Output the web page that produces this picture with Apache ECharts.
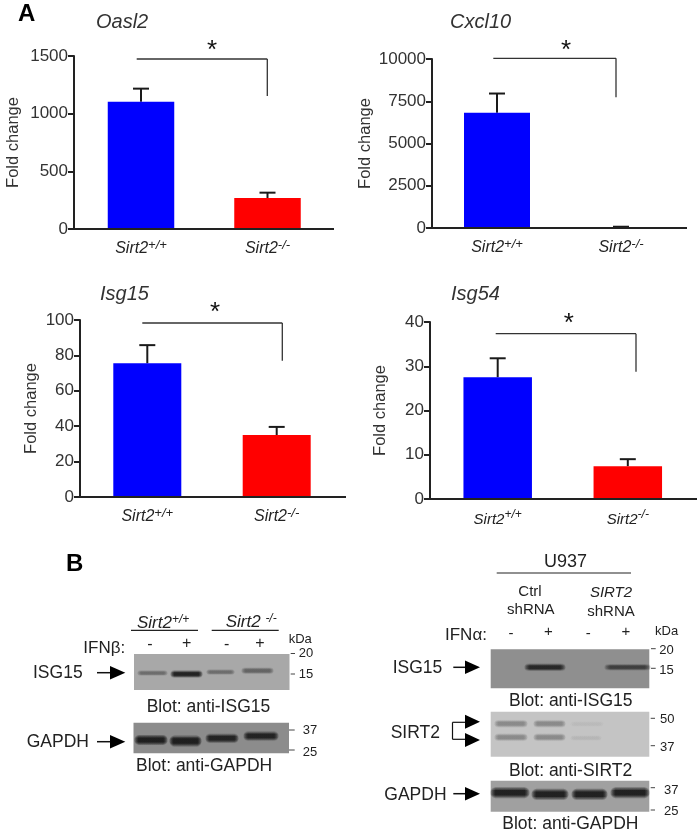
<!DOCTYPE html>
<html><head><meta charset="utf-8">
<style>html,body{margin:0;padding:0;background:#fff}#c{width:700px;height:832px}</style>
<script src="https://cdn.jsdelivr.net/npm/echarts@6/dist/echarts.min.js"></script>
</head><body><div id="c"></div>
<script>
const categories = ['Sirt2+/+', 'Sirt2-/-'];
const oasl2Means = [1104, 269];
const oasl2Tops = [1217, 315];
const cxcl10Means = [6820, 30];
const cxcl10Tops = [7957, 75];
const isg15Means = [75.5, 35];
const isg15Tops = [85.8, 39.6];
const isg54Means = [27.5, 7.4];
const isg54Tops = [31.8, 9];
const barColors = ['#0000ff', '#ff0000'];
const FONT = '"Liberation Sans", Arial, sans-serif';
const INK = '#222';

const panels = [
  {title:'Oasl2', means:oasl2Means, tops:oasl2Tops, max:1500, interval:500, c0:141, c1:267.5, bw:66.5, axisX:74, endX:334, top:56, y0:229, nameX:11.7, titleX:96, titleY:22.5,
   br:[136.7,267.3,59,96], star:[212,51], lab:16},
  {title:'Cxcl10', means:cxcl10Means, tops:cxcl10Tops, max:10000, interval:2500, c0:497, c1:621, bw:66, axisX:432, endX:687, top:59, y0:228, nameX:364, titleX:450, titleY:22.5,
   br:[493.3,616,58.3,97.3], star:[566,51], lab:16},
  {title:'Isg15', means:isg15Means, tops:isg15Tops, max:100, interval:20, c0:147.3, c1:276.7, bw:68, axisX:80, endX:346, top:320, y0:497, nameX:30, titleX:100, titleY:294,
   br:[142.3,282.3,323,360.7], star:[215,313], lab:16},
  {title:'Isg54', means:isg54Means, tops:isg54Tops, max:40, interval:10, c0:497.7, c1:627.8, bw:68.5, axisX:430, endX:697, top:322, y0:499, nameX:379.3, titleX:451, titleY:294,
   br:[495.7,636,333.7,371.7], star:[568.7,324], lab:15}
];

const grid=[], xAxis=[], yAxis=[], series=[], graphic=[];

function txt(x,y,text,size,opt){
  opt=opt||{};
  graphic.push({type:'text',x:x,y:y,silent:true,z:50,style:{text:text,font:(opt.style||'normal')+' '+(opt.weight||'normal')+' '+size+'px '+FONT,
    fill:opt.fill||INK,textAlign:opt.align||'left',textVerticalAlign:'middle',verticalAlign:'middle'}});
}
function line(x1,y1,x2,y2,w,color){
  graphic.push({type:'line',silent:true,z:40,shape:{x1:x1,y1:y1,x2:x2,y2:y2},style:{stroke:color||INK,lineWidth:w||1.5}});
}
function poly(points,color){
  graphic.push({type:'polygon',silent:true,z:40,shape:{points:points},style:{fill:color||'#000'}});
}
function arrow(x1,x2,x3,cy){
  line(x1,cy,x2,cy,1.5,'#111');
  poly([[x2,cy-6.8],[x3,cy],[x2,cy+6.8]],'#000');
}
function blot(x1,x2,y1,y2,color){
  graphic.push({type:'rect',silent:true,z:30,shape:{x:x1,y:y1,width:x2-x1,height:y2-y1},style:{fill:color}});
}
// soft blot band: stacked rounded rects that fade at both ends and towards the edges
function band(x1,x2,cy,h,color){
  const layers=[[1,.28],[.75,.4],[.5,.6]];
  layers.forEach(l=>{
    const hh=h*l[0];
    graphic.push({type:'rect',silent:true,z:31,shape:{x:x1,y:cy-hh/2,width:x2-x1,height:hh,r:hh/2},
      style:{shadowBlur:2,shadowColor:'rgba('+color+','+(l[1]*.5)+')',fill:{type:'linear',x:0,y:0,x2:1,y2:0,colorStops:[
        {offset:0,color:'rgba('+color+',0)'},{offset:.14,color:'rgba('+color+','+l[1]+')'},
        {offset:.86,color:'rgba('+color+','+l[1]+')'},{offset:1,color:'rgba('+color+',0)'}]}}});
  });
}
function tick(x1,x2,y){ line(x1,y,x2,y,1,'#444'); }

panels.forEach((p,i)=>{
  const sp=p.c1-p.c0, left=p.c0-sp/2;
  grid.push({left:left,width:sp*2,top:p.top,height:p.y0-p.top,outerBoundsMode:'none',containLabel:false});
  xAxis.push({type:'category',gridIndex:i,data:categories,
    axisLine:{lineStyle:{color:INK,width:2}},axisTick:{show:false},
    axisLabel:{margin:10,interval:0,formatter:v=>v==='Sirt2+/+'?'{a|Sirt2}{s|+/+}':'{a|Sirt2}{s|-/-}',
      rich:{a:{fontFamily:FONT,fontStyle:'italic',fontSize:p.lab,color:INK,lineHeight:18,verticalAlign:'bottom'},
            s:{fontFamily:FONT,fontStyle:'italic',fontSize:p.lab-3,color:INK,lineHeight:18,verticalAlign:'top',padding:[0,0,6,0]}}}});
  yAxis.push({type:'value',gridIndex:i,min:0,max:p.max,interval:p.interval,offset:left-p.axisX,
    name:'Fold change',nameLocation:'middle',nameMoveOverlap:false,nameGap:p.axisX-p.nameX-10,nameTextStyle:{fontFamily:FONT,fontSize:16.5,color:'#333'},
    splitLine:{show:false},axisLine:{show:true,lineStyle:{color:INK,width:2}},axisTick:{show:true,length:6,lineStyle:{color:INK,width:2}},
    axisLabel:{margin:6,fontFamily:FONT,fontSize:17,color:'#333',formatter:v=>String(v)}});
  series.push({type:'bar',xAxisIndex:i,yAxisIndex:i,barWidth:p.bw,z:2,animation:false,
    data:p.means.map((v,k)=>({value:v,itemStyle:{color:barColors[k]}}))});
  series.push({type:'custom',xAxisIndex:i,yAxisIndex:i,z:1,animation:false,clip:false,
    data:p.means.map((v,k)=>[k,v,p.tops[k]]),
    renderItem:(params,api)=>{
      const a=api.coord([api.value(0),api.value(1)]), b=api.coord([api.value(0),api.value(2)]);
      const st={stroke:'#1a1a1a',lineWidth:2,fill:null};
      return {type:'group',children:[
        {type:'line',shape:{x1:a[0],y1:a[1],x2:b[0],y2:b[1]},style:st},
        {type:'line',shape:{x1:a[0]-8,y1:b[1],x2:a[0]+8,y2:b[1]},style:st}]};
    }});
  line(p.axisX-1,p.y0,p.endX,p.y0,2,INK);
  const b=p.br;
  line(b[0],b[2],b[1],b[2],1.3,'#333');
  line(b[1],b[2],b[1],b[3],1.3,'#333');
  txt(p.star[0],p.star[1],'*',26,{align:'center',fill:'#111'});
  txt(p.titleX,p.titleY,p.title,20,{style:'italic',fill:'#333'});
});

txt(18,14,'A',24,{weight:'bold',fill:'#000'});
txt(66,564,'B',24,{weight:'bold',fill:'#000'});

// Panel B, left
graphic.push({type:'text',x:137,y:623,silent:true,z:50,style:{text:'{a|Sirt2}{s|+/+}',textVerticalAlign:'middle',rich:{a:{font:'italic 17px '+FONT,fill:INK,verticalAlign:'bottom',lineHeight:18},s:{font:'italic 12px '+FONT,fill:INK,verticalAlign:'top',lineHeight:18,padding:[0,0,5,0]}}}});
graphic.push({type:'text',x:225.7,y:622,silent:true,z:50,style:{text:'{a|Sirt2 }{s|-/-}',textVerticalAlign:'middle',rich:{a:{font:'italic 17px '+FONT,fill:INK,verticalAlign:'bottom',lineHeight:18},s:{font:'italic 12px '+FONT,fill:INK,verticalAlign:'top',lineHeight:18,padding:[0,0,5,0]}}}});
line(131,630.3,198,630.3,1.2);
line(211.7,630.3,278.7,630.3,1.2);
txt(83.3,648,'IFNβ:',17);
txt(150,645,'-',16,{align:'center'});
txt(186.7,644,'+',16,{align:'center'});
txt(226.7,645,'-',16,{align:'center'});
txt(260,644,'+',16,{align:'center'});
txt(288.7,639,'kDa',13);
tick(290.7,295,653.5); txt(298.7,653.5,'20',13);
tick(290.7,295,674); txt(298.7,674,'15',13);
txt(33,672.7,'ISG15',17.5);
arrow(97,110,125.3,672.7);
blot(134,289.5,654,690,'#a8a8a8');
band(137,168,673,5,'100,100,100');
band(170,203,674,7,'15,15,15');
band(206,235,672,5,'100,100,100');
band(241,274,670.7,6,'90,90,90');
txt(146.7,706.7,'Blot: anti-ISG15',17.5);
txt(26.7,742.3,'GAPDH',17.5);
arrow(97,110,125.3,741.7);
blot(133.5,289,722.7,753.3,'#8c8c8c');
band(134,168,740,10,'15,15,15');
band(169,202,741,11,'15,15,15');
band(205,239,738.3,9,'20,20,20');
band(243,279,736,9,'20,20,20');
tick(289,294.7,730); txt(302.7,730.7,'37',13);
tick(289,294.7,750); txt(302.7,752.7,'25',13);
txt(136,765.7,'Blot: anti-GAPDH',17.5);

// Panel B, right
txt(565.5,561.7,'U937',18,{align:'center'});
line(496.7,573,631,573,1.2);
txt(530,591.7,'Ctrl',15,{align:'center'});
txt(530.8,610,'shRNA',15,{align:'center'});
txt(611,593,'SIRT2',15,{align:'center',style:'italic'});
txt(611,612,'shRNA',15,{align:'center'});
txt(445,635.7,'IFNα:',17);
txt(511,634,'-',15,{align:'center'});
txt(548.3,632,'+',15,{align:'center'});
txt(588.3,634,'-',15,{align:'center'});
txt(626,632,'+',15,{align:'center'});
txt(655,631.7,'kDa',13);
tick(651,655.7,648.7); txt(659.3,650,'20',13);
tick(651,655.7,668.3); txt(659.3,670,'15',13);
txt(392.7,667.7,'ISG15',17.5);
arrow(453.3,465,480,667.3);
blot(490.7,649.3,649.3,688.3,'#8f8f8f');
band(524,566,667.3,7,'25,25,25');
band(604,651,667.3,6,'50,50,50');
txt(509,701.3,'Blot: anti-ISG15',17.5);
txt(390.7,732.7,'SIRT2',17.5);
line(468,722.3,452.5,722.3,1.2,'#111');
line(452.5,722.3,452.5,739.3,1.2,'#111');
line(452.5,739.3,468,739.3,1.2,'#111');
poly([[465,714.7],[480,721.7],[465,728.7]]);
poly([[465,733],[480,740],[465,747]]);
blot(490.7,649.3,711.7,756.7,'#c4c4c4');
band(494,528,723.7,7,'130,130,130');
band(533,566,723.7,7,'130,130,130');
band(494,528,737.3,7,'130,130,130');
band(533,566,737.3,7,'130,130,130');
band(570,604,724,5,'185,185,185');
band(570,602,738,5,'180,180,180');
tick(650.7,655,718.3); txt(660,719.3,'50',13);
tick(650.7,655,745.7); txt(660,747.7,'37',13);
txt(509,770.7,'Blot: anti-SIRT2',17.5);
txt(384.3,795,'GAPDH',17.5);
arrow(453.3,465,480,793.7);
blot(490.7,649.3,780.7,811.7,'#a0a0a0');
band(490,530,792.7,11,'15,15,15');
band(531,569,794.3,11,'15,15,15');
band(571,608,794.3,11,'15,15,15');
band(610,650,792.7,11,'15,15,15');
tick(650.7,655,787.7); txt(664,790.7,'37',13);
tick(650.7,655,810); txt(664,811.7,'25',13);
txt(502.3,824.3,'Blot: anti-GAPDH',17.5);

const chart=echarts.init(document.getElementById('c'),null,{renderer:'canvas'});
chart.setOption({animation:false,backgroundColor:'#fff',grid,xAxis,yAxis,series,graphic});
</script></body></html>
